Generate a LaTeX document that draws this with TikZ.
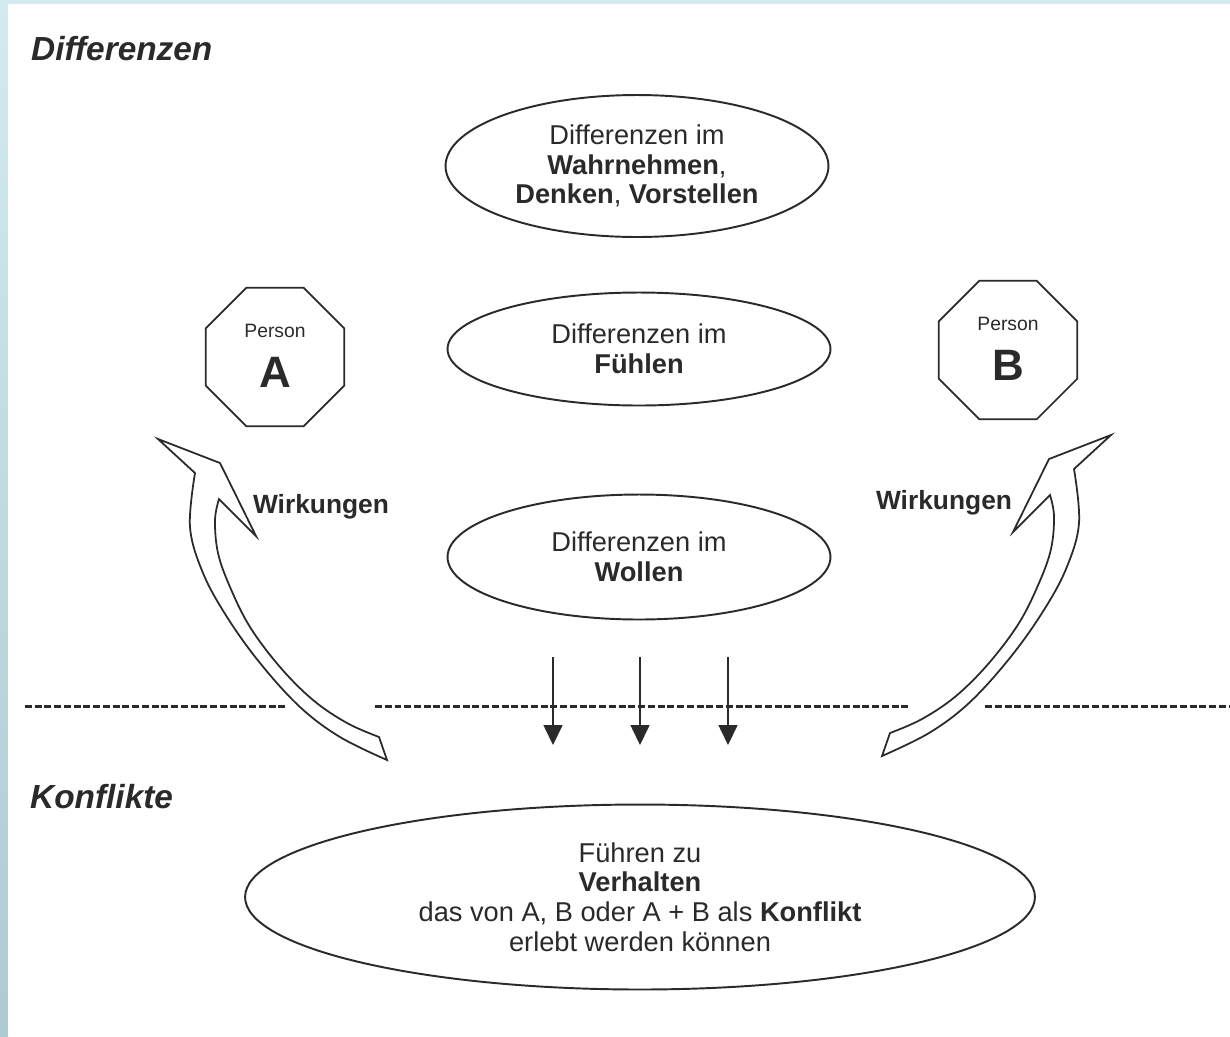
\documentclass[tikz,border=0pt]{standalone}
\usepackage{fontspec}
\setmainfont{Liberation Sans}
\usetikzlibrary{arrows.meta,shapes.geometric}
\definecolor{inkgray}{HTML}{2A2A2A}
\definecolor{framecyan}{HTML}{D3EAF0}
\definecolor{framesteel}{HTML}{AECAD3}

\begin{document}
\begin{tikzpicture}[x=0.02cm, y=-0.02cm,
  bubble/.style={draw=inkgray, line width=1.1pt, ellipse, align=center, inner sep=0pt,
                 minimum width=7.66cm, font=\fontsize{15.5}{16.8}\selectfont, text=inkgray},
  person/.style={draw=inkgray, line width=1pt, regular polygon, regular polygon sides=8,
                 minimum size=3.0cm, inner sep=0pt},
  persontag/.style={font=\fontsize{11}{13}\selectfont, text=inkgray, yshift=0.53cm},
  personletter/.style={font=\fontsize{25}{28}\selectfont\bfseries, text=inkgray, yshift=-0.3cm},
  heading/.style={anchor=base west, font=\fontsize{19}{22}\selectfont\bfseries\itshape, text=inkgray},
  effect/.style={font=\fontsize{15}{18}\selectfont\bfseries, text=inkgray},
  split/.style={draw=inkgray, line width=1.7pt, dash pattern=on 0.14cm off 0.055cm},
  drop/.style={draw=inkgray, line width=0.9pt, -{Triangle[length=0.4cm, width=0.38cm]}},
  blockarrow/.style={draw=inkgray, line width=1pt, fill=white, line join=miter}
]
% page frame
\fill[framecyan] (0,0) rectangle (1230,1036);
\shade[top color=framecyan, bottom color=framesteel] (0,0) rectangle (8,1036);
\fill[white] (8,4) rectangle (1230,1036);
\useasboundingbox (0,0) rectangle (1230,1036);

\node[heading] (diffhead) at (25,60) {Differenzen};
\node[heading] (konfhead) at (24,808) {Konflikte};

\node[bubble, minimum height=2.84cm] (perceive) at (637,166)
  {Differenzen im\\\textbf{Wahrnehmen},\\\textbf{Denken}, \textbf{Vorstellen}};
\node[bubble, minimum height=2.26cm] (feel) at (639,349) {Differenzen im\\\textbf{Fühlen}};
\node[bubble, minimum height=2.5cm] (want) at (639,557) {Differenzen im\\\textbf{Wollen}};
\node[bubble, minimum width=15.8cm, minimum height=3.7cm] (behave) at (640,897)
  {Führen zu\\\textbf{Verhalten}\\das von A, B oder A + B als \textbf{Konflikt}\\erlebt werden können};

\node[person] (persA) at (275,357) {};
\node[persontag] (persAtag) at (persA.center) {Person};
\node[personletter] (persAname) at (persA.center) {A};
\node[person] (persB) at (1008,350) {};
\node[persontag] (persBtag) at (persB.center) {Person};
\node[personletter] (persBname) at (persB.center) {B};

\node[effect] (effA) at (321,507) {Wirkungen};
\node[effect] (effB) at (944,503) {Wirkungen};

% separators
\draw[split] (25,706) -- (285,706);
\draw[split] (375,706) -- (910,706);
\draw[split] (985,706) -- (1230,706);

\foreach \x [count=\i] in {553,640,728}{
  \coordinate (droptop\i) at (\x,657);
  \coordinate (dropend\i) at (\x,745);
  \draw[drop] (droptop\i) -- (dropend\i);
}

% curved block arrows
\draw[blockarrow] (158,439) -- (220,463) -- (256,536) -- (219,499)
  -- plot[smooth, tension=0.6] coordinates {(219,499) (215,520) (218,553) (230,587) (250,627)
       (280,667) (313,700) (347,723) (379,737)}
  -- plot[smooth, tension=0.6] coordinates {(387,760) (340,737) (300,707) (260,663) (227,617)
       (203,573) (190,527) (195,473)}
  -- cycle;
\draw[blockarrow] (1111,435) -- (1049,459) -- (1013,532) -- (1050,495)
  -- plot[smooth, tension=0.6] coordinates {(1050,495) (1054,516) (1051,549) (1039,583) (1019,623)
       (989,663) (956,696) (922,719) (890,733)}
  -- plot[smooth, tension=0.6] coordinates {(882,756) (929,733) (969,703) (1009,659) (1042,613)
       (1066,569) (1079,523) (1074,469)}
  -- cycle;
\end{tikzpicture}
\end{document}
